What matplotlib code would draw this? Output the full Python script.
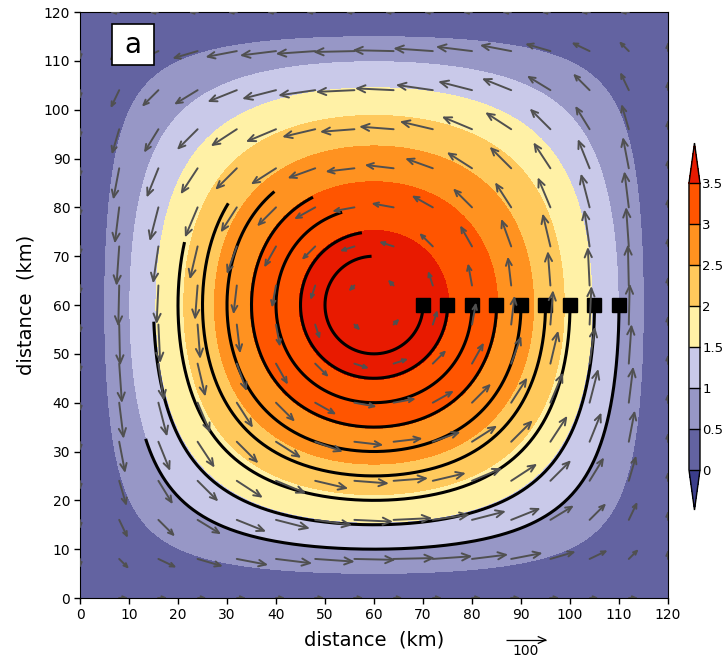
import numpy as np
import matplotlib.pyplot as plt
from matplotlib.colors import ListedColormap, BoundaryNorm
from matplotlib.collections import LineCollection
from matplotlib.patches import Rectangle

# square gyre, 120 km on a side
L = 120.0
tracer_peak = 3.8        # tracer maximum at the gyre centre
flow_speed = 100.0       # peak speed of the gyre flow
wall_speed = 17.0        # speed shown for the wall points
vec_spacing = 8.0        # km between plotted vectors
vec_ref = 100.0          # reference vector magnitude
km_per_unit = 0.0816     # arrow length (km) per unit of speed

levels = [0, 0.5, 1, 1.5, 2, 2.5, 3, 3.5]
under_color = '#3b3d8b'
band_colors = ['#6363a1', '#9797c6', '#c9c9e9', '#fff1a6',
               '#ffc95c', '#ff9220', '#ff5500']
over_color = '#e81a00'
arrow_color = '#505050'

# trajectory end markers (squares) and the free ends of the tracks
release_x = [70, 75, 80, 85, 90, 95, 100, 105, 110]
release_y = 60.0
end_x = [59.5, 57.5, 53.5, 47.6, 39.8, 30.3, 21.3, 15.2, 13.4]
end_y = [70.0, 75.0, 79.0, 82.0, 83.1, 80.8, 72.9, 56.6, 32.6]


def gyre_shape(x, y):
    return np.sin(np.pi * x / L) * np.sin(np.pi * y / L)


def gyre_velocity(x, y):
    u = flow_speed * np.sin(np.pi * x / L) * np.cos(np.pi * y / L)
    v = -flow_speed * np.cos(np.pi * x / L) * np.sin(np.pi * y / L)
    return u, v


def streamline(level, a0, a1, n=500):
    # walk the closed streamline psi = level between two polar angles
    c = L / 2
    ang = np.linspace(a0, a1, n)
    ca, sa = np.cos(ang), np.sin(ang)
    lo = np.zeros(n)
    hi = c / np.maximum(np.abs(ca), np.abs(sa))
    for _ in range(60):
        mid = 0.5 * (lo + hi)
        above = gyre_shape(c + mid * ca, c + mid * sa) > level
        lo = np.where(above, mid, lo)
        hi = np.where(above, hi, mid)
    r = 0.5 * (lo + hi)
    return c + r * ca, c + r * sa


def arrow_lines(x0, y0, u, v):
    dx, dy = u * km_per_unit, v * km_per_unit
    length = np.hypot(dx, dy)
    if length < 1e-6:
        return []
    head = np.clip(0.27 * length, 0.85, 1.8)
    ang = np.arctan2(dy, dx)
    hx, hy = x0 + dx, y0 + dy
    b1 = ang + np.pi + np.radians(24)
    b2 = ang + np.pi - np.radians(24)
    return [[(x0, y0), (hx, hy)],
            [(hx + head * np.cos(b1), hy + head * np.sin(b1)), (hx, hy),
             (hx + head * np.cos(b2), hy + head * np.sin(b2))]]


fig = plt.figure(figsize=(7.26, 6.61), dpi=100)
ax = fig.add_axes([0.1102, 0.0953, 0.8099, 0.8865])

# tracer field
g = np.linspace(0, L, 361)
X, Y = np.meshgrid(g, g)
F = tracer_peak * gyre_shape(X, Y)
cmap = ListedColormap(band_colors)
cmap.set_under(under_color)
cmap.set_over(over_color)
norm = BoundaryNorm(levels, cmap.N)
cs = ax.contourf(X, Y, F, levels=levels, cmap=cmap, norm=norm, extend='both')

# back trajectories along the streamlines
for xs, xe, ye in zip(release_x, end_x, end_y):
    level = gyre_shape(xs, release_y)
    a_end = np.arctan2(ye - L / 2, xe - L / 2)
    if a_end > 0:
        a_end -= 2 * np.pi
    tx, ty = streamline(level, 0.0, a_end)
    ax.plot(tx, ty, color='black', lw=2.2, solid_capstyle='butt', zorder=3)

ax.plot(release_x, [release_y] * len(release_x), 's', color='black',
        markersize=10.5, zorder=4)

# velocity vectors, tail at the grid point
segs = []
pts = np.arange(0, L + 0.1, vec_spacing)
for xv in pts:
    for yv in pts:
        u, v = gyre_velocity(xv, yv)
        on_wall = xv in (0, L) or yv in (0, L)
        if on_wall:
            if xv in (0, L) and yv in (0, L):
                continue
            if yv in (0, L):
                u, v = wall_speed * np.sign(u), 0.0
            else:
                u, v = 0.0, wall_speed * np.sign(v)
        segs += arrow_lines(xv, yv, u, v)
ax.add_collection(LineCollection(segs, colors=arrow_color, linewidths=1.4,
                                 capstyle='round', joinstyle='round', zorder=5))

# reference vector below the frame
ref = LineCollection(arrow_lines(86.9, -8.6, vec_ref, 0.0), colors='black',
                     linewidths=0.9, clip_on=False, zorder=5)
ax.add_collection(ref)
ax.text(86.9 + vec_ref * km_per_unit / 2, -9.5, '100', ha='center', va='top',
        fontsize=10, clip_on=False)

# panel tag
ax.add_patch(Rectangle((0.0544, 0.9096), 0.0715, 0.0699, transform=ax.transAxes,
                       facecolor='white', edgecolor='black', lw=1.2, zorder=6))
ax.text(0.0901, 0.9445, 'a', transform=ax.transAxes, ha='center', va='center',
        fontsize=20, zorder=7)

ax.set_xlim(0, L)
ax.set_ylim(0, L)
ax.set_xticks(np.arange(0, 121, 10))
ax.set_yticks(np.arange(0, 121, 10))
ax.tick_params(direction='out', length=4, width=1, labelsize=10, pad=3,
               top=False, right=False)
ax.set_xlabel('distance  (km)', fontsize=14, labelpad=6)
ax.set_ylabel('distance  (km)', fontsize=14, labelpad=6)

# colour bar with triangular ends
cax = fig.add_axes([0.949, 0.2284, 0.0152, 0.5552])
cb = fig.colorbar(cs, cax=cax, extendfrac=0.14, drawedges=True, ticks=levels)
cb.ax.set_yticklabels(['0', '0.5', '1', '1.5', '2', '2.5', '3', '3.5'])
cb.ax.tick_params(length=0, labelsize=9.5, pad=1.5)
cb.outline.set_linewidth(1.0)
cb.dividers.set_color('black')
cb.dividers.set_linewidth(1.0)

fig.savefig('out.png', dpi=100)
